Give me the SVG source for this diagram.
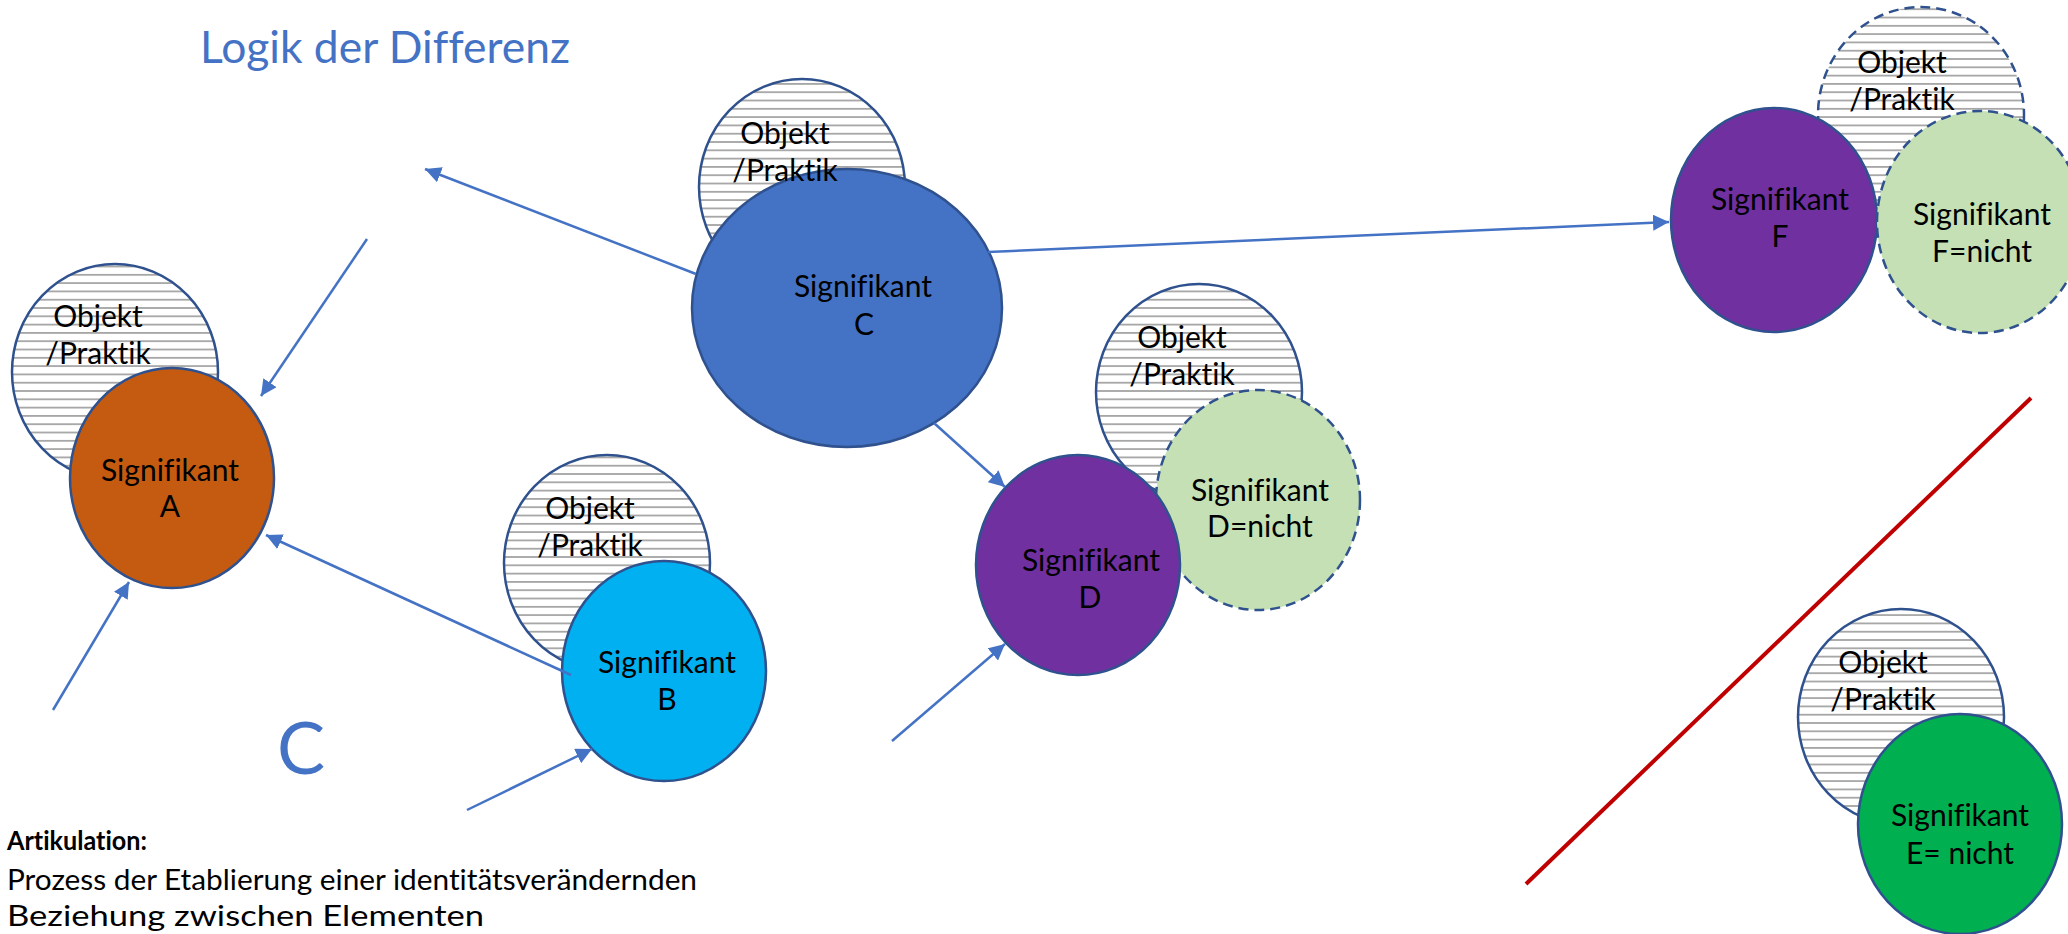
<svg xmlns="http://www.w3.org/2000/svg" width="2068" height="934" viewBox="0 0 2068 934">
<style>
text{font-family:Lato,"Liberation Sans",sans-serif;fill:#000;font-variant-ligatures:none}
.lbl{font-size:30px;text-anchor:middle}
.obj{stroke:#2F528F;stroke-width:2.5;fill:url(#hatch)}
.sig{stroke:#2F528F;stroke-width:2.5}
.dash{stroke-dasharray:10 6}
.con{stroke:#4472C4;stroke-width:2.5;fill:none;marker-end:url(#ah)}
.blue{fill:#4472C4}
.body{font-size:29px}
</style>
<defs>
<pattern id="hatch" patternUnits="userSpaceOnUse" width="8" height="8.3">
<rect width="8" height="8.3" fill="#fff"/>
<rect y="0" width="8" height="1.8" fill="#A6A6A6"/>
</pattern>
<marker id="ah" markerUnits="userSpaceOnUse" markerWidth="18" markerHeight="16" refX="16" refY="8" orient="auto">
<path d="M0,0 L16,8 L0,16 Z" fill="#4472C4"/>
</marker>
</defs>
<rect width="2068" height="934" fill="#fff"/>
<text x="200" y="63" class="blue" style="font-size:45px" textLength="370" lengthAdjust="spacingAndGlyphs">Logik der Differenz</text>
<g id="nodeA">
<ellipse class="obj" cx="115" cy="372" rx="103" ry="108"/>
<text class="lbl" x="98" y="327">Objekt</text>
<text class="lbl" x="98" y="364">/Praktik</text>
<ellipse class="sig" cx="172" cy="478" rx="102" ry="110" fill="#C55A11"/>
<text class="lbl" x="170" y="481">Signifikant</text>
<text class="lbl" x="170" y="517">A</text>
</g>
<g id="nodeB">
<ellipse class="obj" cx="607" cy="563" rx="103" ry="108"/>
<text class="lbl" x="590" y="519">Objekt</text>
<text class="lbl" x="590" y="556">/Praktik</text>
<ellipse class="sig" cx="664" cy="671" rx="102" ry="110" fill="#00B0F0"/>
<text class="lbl" x="667" y="673">Signifikant</text>
<text class="lbl" x="667" y="710">B</text>
</g>
<g id="nodeC">
<ellipse class="obj" cx="802" cy="187" rx="103" ry="108"/>
<ellipse class="sig" cx="847" cy="308" rx="155" ry="139" fill="#4472C4"/>
<text class="lbl" x="785" y="144">Objekt</text>
<text class="lbl" x="785" y="181">/Praktik</text>
<text class="lbl" x="863" y="297">Signifikant</text>
<text class="lbl" x="864" y="335">C</text>
</g>
<g id="nodeD">
<ellipse class="obj" cx="1199" cy="392" rx="103" ry="108"/>
<text class="lbl" x="1182" y="348">Objekt</text>
<text class="lbl" x="1182" y="385">/Praktik</text>
<ellipse class="sig dash" cx="1258" cy="500" rx="102" ry="110" fill="#C5E0B4"/>
<text class="lbl" x="1260" y="501">Signifikant</text>
<text class="lbl" x="1260" y="537">D=nicht</text>
<ellipse class="sig" cx="1078" cy="565" rx="102" ry="110" fill="#7030A0"/>
<text class="lbl" x="1091" y="571">Signifikant</text>
<text class="lbl" x="1090" y="608">D</text>
</g>
<g id="nodeF">
<ellipse class="obj dash" cx="1921" cy="115" rx="103" ry="108"/>
<text class="lbl" x="1902" y="73">Objekt</text>
<text class="lbl" x="1902" y="110">/Praktik</text>
<ellipse class="sig" cx="1774" cy="220" rx="103" ry="112" fill="#7030A0"/>
<text class="lbl" x="1780" y="210">Signifikant</text>
<text class="lbl" x="1780" y="247">F</text>
<ellipse class="sig dash" cx="1980" cy="222" rx="103" ry="111" fill="#C5E0B4"/>
<text class="lbl" x="1982" y="225">Signifikant</text>
<text class="lbl" x="1982" y="262">F=nicht</text>
</g>
<g id="nodeE">
<ellipse class="obj" cx="1901" cy="717" rx="103" ry="108"/>
<text class="lbl" x="1883" y="673">Objekt</text>
<text class="lbl" x="1883" y="710">/Praktik</text>
<ellipse class="sig" cx="1960" cy="824" rx="102" ry="110" fill="#00B050"/>
<text class="lbl" x="1960" y="826">Signifikant</text>
<text class="lbl" x="1960" y="864">E= nicht</text>
</g>
<g id="connectors">
<line class="con" x1="696" y1="274" x2="425" y2="169"/>
<line class="con" x1="367" y1="239" x2="261" y2="396"/>
<line class="con" x1="53" y1="710" x2="129" y2="582"/>
<line class="con" x1="571" y1="675" x2="266" y2="535"/>
<line class="con" x1="467" y1="810" x2="592" y2="749"/>
<line class="con" x1="934" y1="423" x2="1005" y2="487"/>
<line class="con" x1="892" y1="741" x2="1005" y2="644"/>
<line class="con" x1="988" y1="252" x2="1669" y2="222"/>
</g>
<line id="divider" x1="1526" y1="884" x2="2031" y2="398" stroke="#C00000" stroke-width="4"/>
<text x="277" y="774" class="blue" style="font-size:72px">C</text>
<text x="7" y="850" style="font-size:27px;font-weight:bold" textLength="140" lengthAdjust="spacingAndGlyphs">Artikulation:</text>
<text x="7" y="890" class="body" textLength="690" lengthAdjust="spacingAndGlyphs">Prozess der Etablierung einer identitätsverändernden</text>
<text x="7" y="926" class="body" textLength="477" lengthAdjust="spacingAndGlyphs">Beziehung zwischen Elementen</text>
</svg>
